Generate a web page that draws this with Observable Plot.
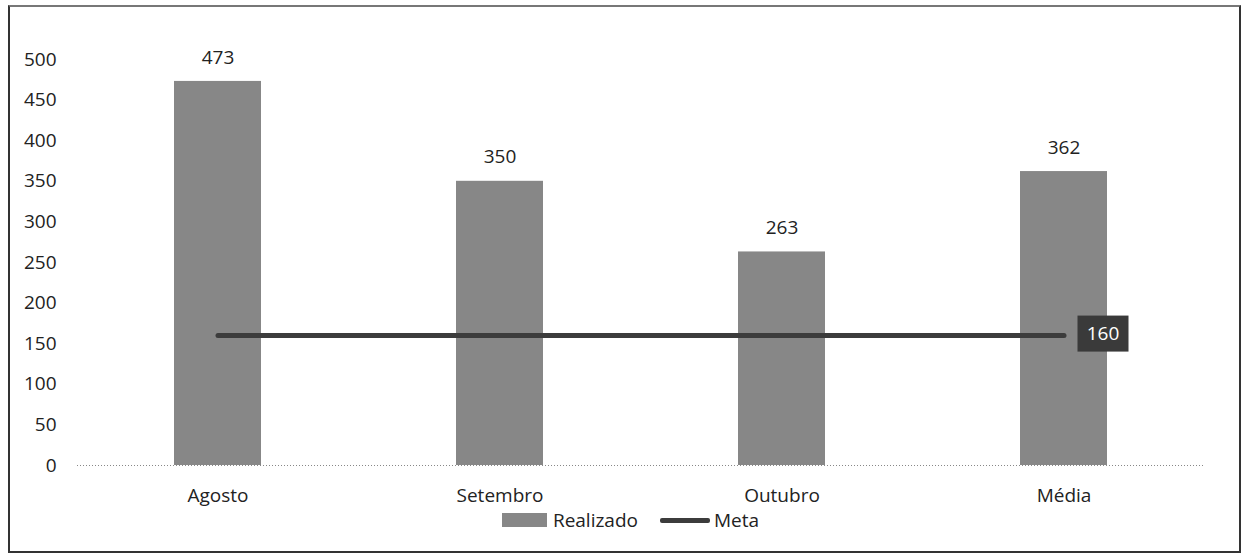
<!DOCTYPE html>
<html>
<head>
<meta charset="utf-8">
<script src="https://cdn.jsdelivr.net/npm/d3@7"></script>
<script src="https://cdn.jsdelivr.net/npm/@observablehq/plot@0.6"></script>
<style>
  html, body { margin: 0; padding: 0; background: #fff; }
  body { width: 1247px; height: 555px; position: relative; overflow: hidden; font-family: "Open Sans", sans-serif; }
  #frame { position: absolute; left: 8px; top: 5px; width: 1229px; height: 544px; border: 2px solid #333; border-top-color: #777; box-sizing: content-box; }
  #chart { position: absolute; left: 0; top: 0; }
  #legend { position: absolute; left: 0; top: 508px; width: 1247px; display: flex; justify-content: center; align-items: center; font-size: 19px; color: #222; padding-left: 14px; box-sizing: border-box; }
  .sw-bar { display: inline-block; width: 45px; height: 14px; background: #878787; margin-right: 6px; }
  .sw-line { display: inline-block; width: 50px; height: 5px; background: #3c3c3c; margin-left: 22px; margin-right: 4px; border-radius: 2px; }
  #legend span.lbl { line-height: 24px; }
</style>
</head>
<body>
<div id="frame"></div>
<div id="chart"></div>
<div id="legend">
  <span class="sw-bar"></span><span class="lbl">Realizado</span>
  <span class="sw-line"></span><span class="lbl">Meta</span>
</div>
<script>
const categories = ["Agosto", "Setembro", "Outubro", "Média"];
const realizado = [473, 350, 263, 362];
const meta = [160, 160, 160, 160];
const yTicks = [0, 50, 100, 150, 200, 250, 300, 350, 400, 450, 500];

const bars = categories.map((c, i) => ({cat: c, value: realizado[i]}));
const metaRows = categories.map((c, i) => ({cat: c, value: meta[i]}));
const metaLast = [metaRows[metaRows.length - 1]];

function boxedText(w, h, fill) {
  return function(index, scales, values, dimensions, context, next) {
    const g = next(index, scales, values, dimensions, context);
    d3.select(g).selectAll("text").each(function() {
      const t = d3.select(this);
      const parent = this.parentNode;
      const r = document.createElementNS("http://www.w3.org/2000/svg", "rect");
      const tr = t.attr("transform") || "";
      r.setAttribute("transform", tr);
      r.setAttribute("x", -w / 2);
      r.setAttribute("y", -h / 2);
      r.setAttribute("width", w);
      r.setAttribute("height", h);
      r.setAttribute("fill", fill);
      parent.insertBefore(r, this);
    });
    return g;
  };
}

const chart = Plot.plot({
  width: 1247,
  height: 555,
  marginLeft: 77,
  marginRight: 42,
  marginTop: 59,
  marginBottom: 90,
  style: {fontFamily: "Open Sans, sans-serif", fontSize: "19px", color: "#222", background: "transparent"},
  x: {domain: categories, paddingInner: 0.69, paddingOuter: 0.345, align: 0.5, label: null, tickSize: 0, tickPadding: 23},
  y: {domain: [0, 500], ticks: yTicks, label: null, tickSize: 0, tickPadding: 21},
  marks: [
    Plot.barY(bars, {x: "cat", y: "value", fill: "#878787"}),
    Plot.ruleY([0], {stroke: "#888", strokeDasharray: "1,2", strokeWidth: 1}),
    Plot.text(bars, {x: "cat", y: "value", text: d => String(d.value), dy: -24, fill: "#222", fontSize: 19}),
    Plot.lineY(metaRows, {x: "cat", y: "value", stroke: "#3c3c3c", strokeWidth: 5}),
    Plot.text(metaLast, {x: "cat", y: "value", text: d => String(d.value), dx: 39, dy: -2, fill: "#fff", fontSize: 19, render: boxedText(51, 36, "#3a3a3a")})
  ]
});
document.getElementById("chart").appendChild(chart);
</script>
</body>
</html>
